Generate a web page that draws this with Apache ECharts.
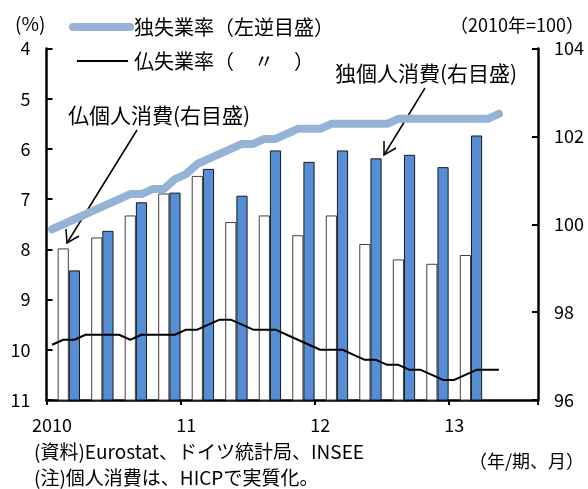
<!DOCTYPE html>
<html>
<head>
<meta charset="utf-8">
<script src="https://cdn.jsdelivr.net/npm/echarts@6/dist/echarts.min.js"></script>
<style>
  html, body { margin: 0; padding: 0; background: #ffffff; }
  #chart { width: 588px; height: 489px; }
</style>
</head>
<body>
<div id="chart"></div>
<script>
// Monthly categories, Jan 2010 – Aug 2013
const months = [
  '2010/1','2010/2','2010/3','2010/4','2010/5','2010/6','2010/7','2010/8','2010/9','2010/10','2010/11','2010/12',
  '2011/1','2011/2','2011/3','2011/4','2011/5','2011/6','2011/7','2011/8','2011/9','2011/10','2011/11','2011/12',
  '2012/1','2012/2','2012/3','2012/4','2012/5','2012/6','2012/7','2012/8','2012/9','2012/10','2012/11','2012/12',
  '2013/1','2013/2','2013/3','2013/4','2013/5','2013/6','2013/7','2013/8'
];
// Year labels shown under each January
const yearLabels = { '2010/1': '2010', '2011/1': '11', '2012/1': '12', '2013/1': '13' };

// Unemployment rate (%), monthly, Jan 2010 – May 2013
const deUnemployment = [
  7.6, 7.5, 7.4, 7.3, 7.2, 7.1, 7.0, 6.9, 6.9, 6.8, 6.8, 6.6,
  6.5, 6.3, 6.2, 6.1, 6.0, 5.9, 5.9, 5.8, 5.8, 5.7, 5.6, 5.6,
  5.6, 5.5, 5.5, 5.5, 5.5, 5.5, 5.5, 5.4, 5.4, 5.4, 5.4, 5.4,
  5.4, 5.4, 5.4, 5.4, 5.3
];
const frUnemployment = [
  9.9, 9.8, 9.8, 9.7, 9.7, 9.7, 9.7, 9.8, 9.7, 9.7, 9.7, 9.7,
  9.6, 9.6, 9.5, 9.4, 9.4, 9.5, 9.6, 9.6, 9.6, 9.7, 9.8, 9.9,
  10.0, 10.0, 10.0, 10.1, 10.2, 10.2, 10.3, 10.3, 10.4, 10.4, 10.5, 10.6,
  10.6, 10.5, 10.4, 10.4, 10.4
];

// Real private consumption (2010 = 100), quarterly, 2010Q1 – 2013Q1
const quarters = ['2010Q1','2010Q2','2010Q3','2010Q4','2011Q1','2011Q2','2011Q3','2011Q4','2012Q1','2012Q2','2012Q3','2012Q4','2013Q1'];
const frConsumption = [99.45, 99.7, 100.2, 100.7, 101.1, 100.05, 100.2, 99.75, 100.2, 99.55, 99.2, 99.1, 99.3];
const deConsumption = [98.95, 99.85, 100.5, 100.72, 101.26, 100.65, 101.68, 101.42, 101.68, 101.5, 101.58, 101.3, 102.02];

// Place each quarter's pair of bars on the 2nd and 3rd month of the quarter
function quarterlyOnMonths(values, offset) {
  const out = months.map(() => null);
  values.forEach((v, q) => { out[q * 3 + offset] = v; });
  return out;
}

const FONT = "'Noto Sans CJK JP', 'Noto Sans', sans-serif";
const DE_LINE = '#95B3D7';
const DE_BAR = '#558ED5';

const chart = echarts.init(document.getElementById('chart'), null, { renderer: 'canvas' });

const txt = (text, x, y, size, align) => ({
  type: 'text',
  style: { text, x, y, font: size + 'px ' + FONT, fill: '#000', align: align || 'left', verticalAlign: 'middle' }
});

chart.setOption({
  animation: false,
  backgroundColor: '#ffffff',
  grid: { left: 46.5, right: 50, top: 48.5, bottom: 89, containLabel: false },
  xAxis: {
    type: 'category',
    data: months,
    boundaryGap: true,
    axisLine: { lineStyle: { color: '#000', width: 2.5 } },
    axisTick: {
      show: true, inside: false, length: 5,
      interval: (i) => i % 12 === 0,
      lineStyle: { color: '#000', width: 2 }
    },
    axisLabel: {
      interval: (i) => i % 12 === 0,
      formatter: (v) => yearLabels[v] || '',
      color: '#000', fontSize: 18, fontFamily: FONT, margin: 16
    },
    splitLine: { show: false }
  },
  yAxis: [
    {
      type: 'value', inverse: true, min: 4, max: 11, interval: 1,
      axisLine: { show: true, lineStyle: { color: '#000', width: 2.5 } },
      axisTick: { show: true, inside: true, length: 6, lineStyle: { color: '#000', width: 2 } },
      axisLabel: { color: '#000', fontSize: 18, fontFamily: FONT, margin: 16 },
      splitLine: { show: false }
    },
    {
      type: 'value', min: 96, max: 104, interval: 2, position: 'right',
      axisLine: { show: true, lineStyle: { color: '#000', width: 2.5 } },
      axisTick: { show: true, inside: true, length: 6, lineStyle: { color: '#000', width: 2 } },
      axisLabel: { color: '#000', fontSize: 18, fontFamily: FONT, margin: 16 },
      splitLine: { show: false }
    }
  ],
  series: [
    {
      name: '仏個人消費', type: 'bar', yAxisIndex: 1,
      data: quarterlyOnMonths(frConsumption, 1),
      barGap: '-100%', barCategoryGap: '0%',
      itemStyle: { color: '#ffffff', borderColor: '#404040', borderWidth: 1 },
      z: 2
    },
    {
      name: '独個人消費', type: 'bar', yAxisIndex: 1,
      data: quarterlyOnMonths(deConsumption, 2),
      barGap: '-100%', barCategoryGap: '0%',
      itemStyle: { color: DE_BAR, borderColor: '#1a1a1a', borderWidth: 1 },
      z: 2
    },
    {
      name: '独失業率', type: 'line', yAxisIndex: 0,
      data: deUnemployment, symbol: 'none',
      lineStyle: { color: DE_LINE, width: 8, cap: 'round', join: 'round' },
      z: 3
    },
    {
      name: '仏失業率', type: 'line', yAxisIndex: 0,
      data: frUnemployment, symbol: 'none',
      lineStyle: { color: '#000', width: 2 },
      z: 4
    }
  ],
  graphic: [
    txt('(%)', 15, 24, 19),
    txt('（2010年=100）', 584, 25, 18, 'right'),
    { type: 'line', shape: { x1: 73, y1: 27, x2: 130, y2: 27 }, style: { stroke: DE_LINE, lineWidth: 8, lineCap: 'round' } },
    txt('独失業率（左逆目盛）', 134, 27, 20),
    { type: 'line', shape: { x1: 77, y1: 61, x2: 128, y2: 61 }, style: { stroke: '#000', lineWidth: 2 } },
    txt('仏失業率（　〃　）', 134, 61, 20),
    txt('仏個人消費(右目盛)', 68, 115, 21),
    { type: 'line', shape: { x1: 137, y1: 130, x2: 67, y2: 243 }, style: { stroke: '#000', lineWidth: 1.5 } },
    { type: 'polyline', shape: { points: [[66, 229], [67, 243], [79, 236]] }, style: { stroke: '#000', lineWidth: 1.5, fill: null } },
    txt('独個人消費(右目盛)', 335, 73, 21),
    { type: 'line', shape: { x1: 425, y1: 88, x2: 384, y2: 155 }, style: { stroke: '#000', lineWidth: 1.5 } },
    { type: 'polyline', shape: { points: [[384, 141], [384, 155], [396, 148]] }, style: { stroke: '#000', lineWidth: 1.5, fill: null } },
    txt('(資料)Eurostat、ドイツ統計局、INSEE', 34, 452, 19),
    txt('(注)個人消費は、HICPで実質化。', 34, 478, 19),
    txt('（年/期、月）', 584, 461, 18, 'right')
  ]
});
</script>
</body>
</html>
